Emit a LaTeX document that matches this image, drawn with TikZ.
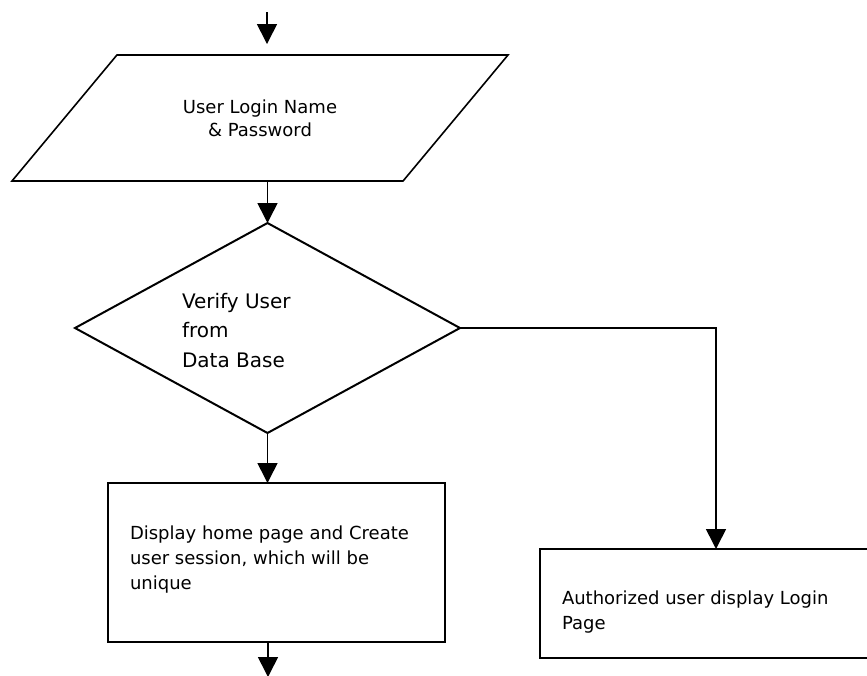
\documentclass[tikz,border=0pt]{standalone}
\usepackage{fontspec}
\setmainfont{DejaVu Sans}
\usetikzlibrary{shapes.geometric,arrows.meta}
\begin{document}
\begin{tikzpicture}[x=1pt,y=-1pt,
        box/.style={draw,line width=1.6pt,inner sep=0pt,outer sep=0pt},
        txt/.style={inner sep=0pt,outer sep=0pt,align=left,
            font=\fontsize{18}{25}\selectfont},
        arr/.style={line width=1.6pt,-{Triangle[width=20pt,length=20pt]}}]
\useasboundingbox (0,0) rectangle (867,675);

\coordinate (entry) at (267,12);
\coordinate (exit) at (268,677);

\node[box,trapezium,trapezium left angle=50.2,trapezium right angle=129.8,
    trapezium stretches body,minimum width=496,inner ysep=44.5pt,
    align=center,font=\fontsize{18}{23}\selectfont] (login) at (260,118)
    {User Login Name\\ \& Password};

\node[box,diamond,line width=2pt,minimum width=385,minimum height=210] (verify) at (267.5,328) {};
\node[txt,anchor=north west,font=\fontsize{20}{29.5}\selectfont] (verifytext) at (182,293)
    {Verify User\\from\\Data Base};

\node[box,minimum width=337,minimum height=159] (home) at (276.5,562.5) {};
\node[txt,anchor=north west] (hometext) at (130,526)
    {Display home page and Create\\user session, which will be\\unique};

\node[box,minimum width=352,minimum height=109] (auth) at (716,603.5) {};
\node[txt,anchor=north west] (authtext) at (562,591)
    {Authorized user display Login\\Page};

\draw[arr,shorten >=11pt] (entry) -- (entry |- login.north);
\draw[arr] (verify.north |- login.south) -- (verify.north);
\draw[arr] (verify.south) -- (verify.south |- home.north);
\draw[arr] (verify.east) -| (auth.north);
\draw[arr] (exit |- home.south) -- (exit);

\end{tikzpicture}
\end{document}
